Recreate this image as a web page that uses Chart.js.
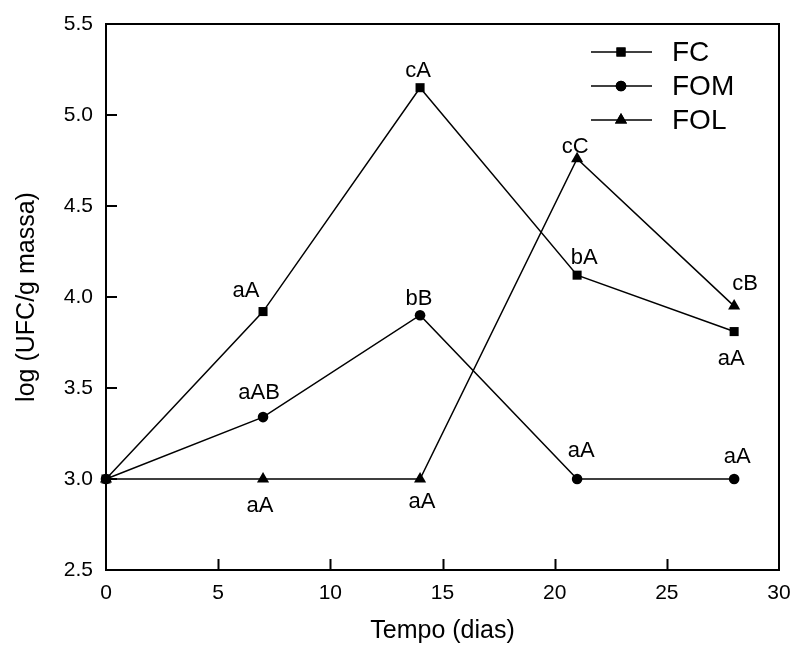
<!DOCTYPE html>
<html>
<head>
<meta charset="utf-8">
<script src="https://cdn.jsdelivr.net/npm/chart.js@4/dist/chart.umd.min.js"></script>
<style>
  body { margin: 0; background: #fff; }
  #wrap { width: 794px; height: 647px; }
</style>
</head>
<body>
<div id="wrap"><canvas id="myChart" width="794" height="647"></canvas></div>
<script>
const days = [0, 7, 14, 21, 28];
const fcValues = [3.0, 3.92, 5.15, 4.12, 3.81];
const fomValues = [3.0, 3.34, 3.90, 3.0, 3.0];
const folValues = [3.0, 3.0, 3.0, 4.76, 3.95];
const fcLetters = ["", "aA", "cA", "bA", "aA"];
const fomLetters = ["", "aAB", "bB", "aA", "aA"];
const folLetters = ["", "aA", "aA", "cC", "cB"];
const seriesNames = ["FC", "FOM", "FOL"];

// where each letter sits relative to its point (dx, baseline dy)
const fcShift = [[0, 0], [-17, -15], [-2, -11], [7, -11], [-3, 33]];
const fomShift = [[0, 0], [-4, -18], [-1, -10], [4, -22], [3, -16]];
const folShift = [[0, 0], [-3, 33], [2, 29], [-2, -6], [11, -16]];

const FONT = "'Liberation Sans', Arial, sans-serif";

function toPoints(values) {
  return days.map((d, i) => ({ x: d, y: values[i] }));
}

const styles = [
  { pointStyle: "rect", pointRadius: 6.4 },
  { pointStyle: "circle", pointRadius: 5.3 },
  { pointStyle: "triangle", pointRadius: 7 },
];
const allValues = [fcValues, fomValues, folValues];
const allLetters = [fcLetters, fomLetters, folLetters];
const allShifts = [fcShift, fomShift, folShift];

const datasets = allValues.map((vals, i) => ({
  label: seriesNames[i],
  data: toPoints(vals),
  showLine: true,
  borderColor: "#000",
  backgroundColor: "#000",
  borderWidth: 1.5,
  pointStyle: styles[i].pointStyle,
  pointRadius: styles[i].pointRadius,
  pointHoverRadius: styles[i].pointRadius,
  pointBorderWidth: 0,
  clip: false,
}));

const frame = {
  id: "frame",
  afterDatasetsDraw(chart) {
    const ctx = chart.ctx;
    const a = chart.chartArea;
    const xs = chart.scales.x;
    const ys = chart.scales.y;
    ctx.save();

    // letters
    ctx.fillStyle = "#000";
    ctx.font = "22px " + FONT;
    ctx.textAlign = "center";
    ctx.textBaseline = "alphabetic";
    chart.data.datasets.forEach((ds, i) => {
      const meta = chart.getDatasetMeta(i);
      meta.data.forEach((pt, j) => {
        const txt = allLetters[i][j];
        if (!txt) return;
        const s = allShifts[i][j];
        ctx.fillText(txt, pt.x + s[0], pt.y + s[1]);
      });
    });

    // box + inward ticks
    ctx.strokeStyle = "#000";
    ctx.lineWidth = 2;
    ctx.strokeRect(a.left, a.top, a.right - a.left, a.bottom - a.top);
    ctx.beginPath();
    for (let v = 5; v < 30; v += 5) {
      const px = Math.round(xs.getPixelForValue(v)) + 0.5;
      ctx.moveTo(px, a.bottom);
      ctx.lineTo(px, a.bottom - 11);
    }
    for (let v = 3.0; v < 5.4; v += 0.5) {
      const py = Math.round(ys.getPixelForValue(v));
      ctx.moveTo(a.left, py);
      ctx.lineTo(a.left + 11, py);
    }
    ctx.stroke();

    // legend
    const rows = [52, 86, 120];
    ctx.font = "28px " + FONT;
    ctx.textAlign = "left";
    ctx.textBaseline = "middle";
    chart.data.datasets.forEach((ds, i) => {
      const y = rows[i];
      ctx.lineWidth = 1.5;
      ctx.beginPath();
      ctx.moveTo(591, y);
      ctx.lineTo(652, y);
      ctx.stroke();
      Chart.helpers.drawPoint(ctx, {
        pointStyle: ds.pointStyle,
        radius: ds.pointRadius,
        borderWidth: 0,
        rotation: 0,
      }, 621, y);
      ctx.fill();
      ctx.fillText(ds.label, 672, y + 1);
    });

    ctx.restore();
  },
};

var ctx = document.getElementById("myChart").getContext("2d");
var myChart = new Chart(ctx, {
  type: "scatter",
  data: { datasets: datasets },
  options: {
    responsive: false,
    animation: false,
    events: [],
    layout: { padding: { top: 24, right: 15, left: 0, bottom: 0 } },
    plugins: { legend: { display: false }, tooltip: { enabled: false } },
    scales: {
      x: {
        type: "linear",
        min: 0,
        max: 30,
        grid: { display: false, drawTicks: false },
        border: { display: false },
        ticks: { stepSize: 5, color: "#000", padding: 11, font: { family: FONT, size: 21 }, maxRotation: 0 },
        title: { display: true, text: "Tempo (dias)", color: "#000", font: { family: FONT, size: 25 }, padding: { top: 0, bottom: 1 } },
        afterFit(scale) {
          scale.height = 77;
          scale.paddingLeft = 0;
          scale.paddingRight = 0;
        },
      },
      y: {
        min: 2.5,
        max: 5.5,
        grid: { display: false, drawTicks: false },
        border: { display: false },
        ticks: {
          stepSize: 0.5,
          color: "#000",
          padding: 13,
          font: { family: FONT, size: 21 },
          callback: (v) => v.toFixed(1),
        },
        title: { display: true, text: "log (UFC/g massa)", color: "#000", font: { family: FONT, size: 25 }, padding: { top: 12, bottom: 0 } },
        afterFit(scale) {
          scale.width = 106;
          scale.paddingTop = 0;
          scale.paddingBottom = 0;
        },
      },
    },
  },
  plugins: [frame],
});
</script>
</body>
</html>
